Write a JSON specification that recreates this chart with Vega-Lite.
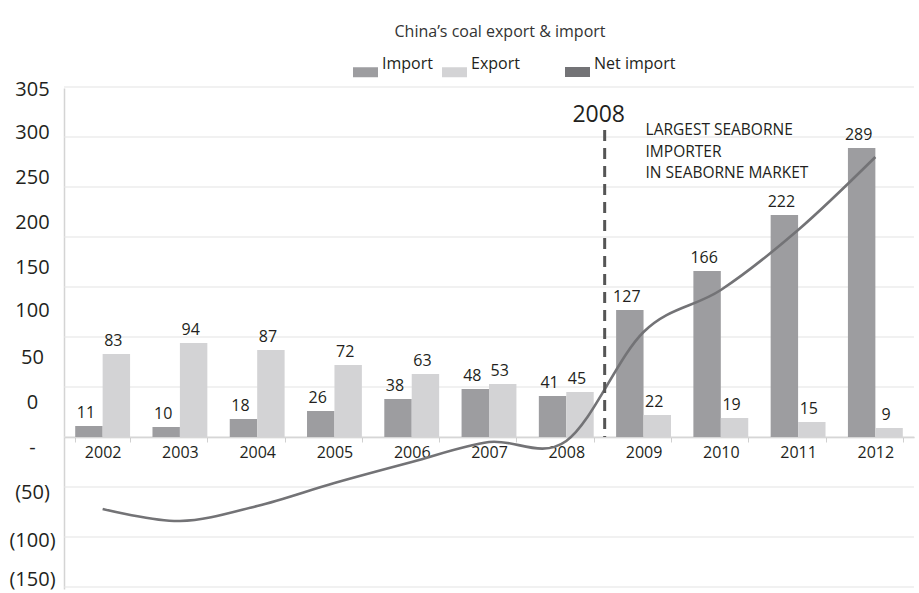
{
  "$schema": "https://vega.github.io/schema/vega-lite/v6.json",
  "width": 850,
  "height": 501,
  "autosize": "none",
  "padding": {"left": 64, "top": 88, "right": 5, "bottom": 4},
  "background": "white",
  "config": {"view": {"stroke": null}, "font": "Open Sans"},
  "title": {
    "text": "China’s coal export & import",
    "anchor": "middle",
    "frame": "group",
    "dx": 11,
    "offset": 20,
    "fontSize": 16,
    "fontWeight": "normal",
    "font": "Open Sans",
    "color": "#333333"
  },
  "resolve": {"scale": {"color": "independent"}},
  "datasets": {
    "bars": [
      {"year": "2002", "series": "Import", "value": 11},
      {"year": "2002", "series": "Export", "value": 83},
      {"year": "2003", "series": "Import", "value": 10},
      {"year": "2003", "series": "Export", "value": 94},
      {"year": "2004", "series": "Import", "value": 18},
      {"year": "2004", "series": "Export", "value": 87},
      {"year": "2005", "series": "Import", "value": 26},
      {"year": "2005", "series": "Export", "value": 72},
      {"year": "2006", "series": "Import", "value": 38},
      {"year": "2006", "series": "Export", "value": 63},
      {"year": "2007", "series": "Import", "value": 48},
      {"year": "2007", "series": "Export", "value": 53},
      {"year": "2008", "series": "Import", "value": 41},
      {"year": "2008", "series": "Export", "value": 45},
      {"year": "2009", "series": "Import", "value": 127},
      {"year": "2009", "series": "Export", "value": 22},
      {"year": "2010", "series": "Import", "value": 166},
      {"year": "2010", "series": "Export", "value": 19},
      {"year": "2011", "series": "Import", "value": 222},
      {"year": "2011", "series": "Export", "value": 15},
      {"year": "2012", "series": "Import", "value": 289},
      {"year": "2012", "series": "Export", "value": 9}
    ],
    "net": [
      {"year": "2002", "series": "Net import", "value": -72},
      {"year": "2003", "series": "Net import", "value": -84},
      {"year": "2004", "series": "Net import", "value": -69},
      {"year": "2005", "series": "Net import", "value": -46},
      {"year": "2006", "series": "Net import", "value": -25},
      {"year": "2007", "series": "Net import", "value": -5},
      {"year": "2008", "series": "Net import", "value": -4},
      {"year": "2009", "series": "Net import", "value": 105},
      {"year": "2010", "series": "Net import", "value": 147},
      {"year": "2011", "series": "Net import", "value": 207},
      {"year": "2012", "series": "Net import", "value": 280}
    ],
    "grid": [
      {"g": -150}, {"g": -100}, {"g": -50}, {"g": 0}, {"g": 50}, {"g": 100},
      {"g": 150}, {"g": 200}, {"g": 250}, {"g": 300}, {"g": 350}
    ],
    "marker": [
      {"year": "2008", "top": 307, "bottom": 0, "label": "2008", "ly": 322}
    ],
    "note": [
      {"year": "2009", "label": "LARGEST SEABORNE\nIMPORTER\nIN SEABORNE MARKET", "ly": 307}
    ]
  },
  "layer": [
    {
      "data": {"name": "grid"},
      "mark": {"type": "rule", "color": "#e4e4e4", "strokeWidth": 1.2},
      "encoding": {
        "y": {
          "field": "g",
          "type": "quantitative",
          "title": null,
          "scale": {"domain": [-152, 349], "nice": false, "zero": false},
          "axis": {
            "values": [348, 305, 260, 215, 170, 127, 80, 35, -10, -55, -103, -142],
            "labelExpr": "datum.value == 348 ? '305' : datum.value == 305 ? '300' : datum.value == 260 ? '250' : datum.value == 215 ? '200' : datum.value == 170 ? '150' : datum.value == 127 ? '100' : datum.value == 80 ? '50' : datum.value == 35 ? '0' : datum.value == -10 ? '-' : datum.value == -55 ? '(50)' : datum.value == -103 ? '(100)' : '(150)'",
            "grid": false,
            "ticks": false,
            "tickSize": 0,
            "labelPadding": 32,
            "labelAlign": "center",
            "labelFontSize": 20,
            "labelColor": "#231f20",
            "labelFont": "Open Sans",
            "domainColor": "#d4d4d4",
            "domainWidth": 1.5,
            "labelOverlap": false,
            "labelFlush": false,
            "labelBound": false,
            "title": null
          }
        }
      }
    },
    {
      "data": {"name": "bars"},
      "mark": {"type": "bar"},
      "encoding": {
        "x": {
          "field": "year",
          "type": "nominal",
          "title": null,
          "scale": {"paddingInner": 0.29, "paddingOuter": 0.145},
          "axis": {
            "title": null,
            "labelAngle": 0,
            "labelFontSize": 16,
            "labelFont": "Open Sans",
            "labelColor": "#231f20",
            "labelPadding": 2,
            "offset": -152,
            "domainColor": "#c8c8c8",
            "domainWidth": 1.5,
            "tickBand": "extent",
            "tickColor": "#d0d0d0",
            "tickSize": 5
          }
        },
        "xOffset": {"field": "series", "type": "nominal", "sort": ["Import", "Export"]},
        "y": {"field": "value", "type": "quantitative", "title": null},
        "color": {
          "field": "series",
          "type": "nominal",
          "scale": {"domain": ["Import", "Export"], "range": ["#9d9da0", "#d3d3d5"]},
          "legend": {
            "orient": "none",
            "legendX": 289,
            "legendY": -28.5,
            "direction": "horizontal",
            "title": null,
            "padding": 0,
            "symbolType": "M-1,-0.4H1V0.4H-1Z",
            "symbolSize": 625,
            "symbolStrokeWidth": 0,
            "symbolOpacity": 1,
            "labelFontSize": 16,
            "labelFont": "Open Sans",
            "labelColor": "#231f20",
            "labelOffset": 4,
            "labelBaseline": "bottom",
            "labelLimit": 300,
            "columnPadding": 9
          }
        }
      }
    },
    {
      "data": {"name": "net"},
      "mark": {"type": "line", "interpolate": "cardinal", "strokeWidth": 2.6},
      "encoding": {
        "x": {"field": "year", "type": "nominal", "title": null},
        "y": {"field": "value", "type": "quantitative", "title": null},
        "color": {
          "field": "series",
          "type": "nominal",
          "scale": {"domain": ["Net import"], "range": ["#737376"]},
          "legend": {
            "orient": "none",
            "legendX": 501,
            "legendY": -28.5,
            "direction": "horizontal",
            "title": null,
            "padding": 0,
            "symbolType": "M-1,-0.4H1V0.4H-1Z",
            "symbolSize": 625,
            "symbolStrokeWidth": 0,
            "symbolFillColor": "#737376",
            "symbolOpacity": 1,
            "labelFontSize": 16,
            "labelFont": "Open Sans",
            "labelColor": "#231f20",
            "labelOffset": 4,
            "labelBaseline": "bottom",
            "labelLimit": 300,
            "encode": {
              "symbols": {
                "update": {
                  "fill": {"value": "#737376"},
                  "stroke": {"value": "transparent"},
                  "opacity": {"value": 1}
                }
              }
            }
          }
        }
      }
    },
    {
      "data": {"name": "bars"},
      "mark": {"type": "text", "fontSize": 16, "font": "Open Sans", "color": "#231f20", "dy": -13, "dx": -3, "baseline": "middle"},
      "encoding": {
        "x": {"field": "year", "type": "nominal", "title": null},
        "xOffset": {"field": "series", "type": "nominal", "sort": ["Import", "Export"]},
        "y": {"field": "value", "type": "quantitative", "title": null},
        "text": {"field": "value", "type": "quantitative"}
      }
    },
    {
      "data": {"name": "marker"},
      "mark": {"type": "rule", "color": "#555555", "strokeWidth": 3, "strokeDash": [11, 7]},
      "encoding": {
        "x": {"field": "year", "type": "nominal", "bandPosition": 1.2, "title": null},
        "y": {"field": "top", "type": "quantitative", "title": null},
        "y2": {"field": "bottom"}
      }
    },
    {
      "data": {"name": "marker"},
      "mark": {"type": "text", "fontSize": 23, "font": "Open Sans", "color": "#231f20", "dx": -6, "baseline": "middle", "align": "center"},
      "encoding": {
        "x": {"field": "year", "type": "nominal", "bandPosition": 1.2, "title": null},
        "y": {"field": "ly", "type": "quantitative", "title": null},
        "text": {"field": "label"}
      }
    },
    {
      "data": {"name": "note"},
      "mark": {"type": "text", "fontSize": 15.5, "font": "Open Sans", "color": "#231f20", "dx": 2, "align": "left", "baseline": "middle", "lineBreak": "\n", "lineHeight": 21.5},
      "encoding": {
        "x": {"field": "year", "type": "nominal", "title": null},
        "y": {"field": "ly", "type": "quantitative", "title": null},
        "text": {"field": "label"}
      }
    }
  ]
}
